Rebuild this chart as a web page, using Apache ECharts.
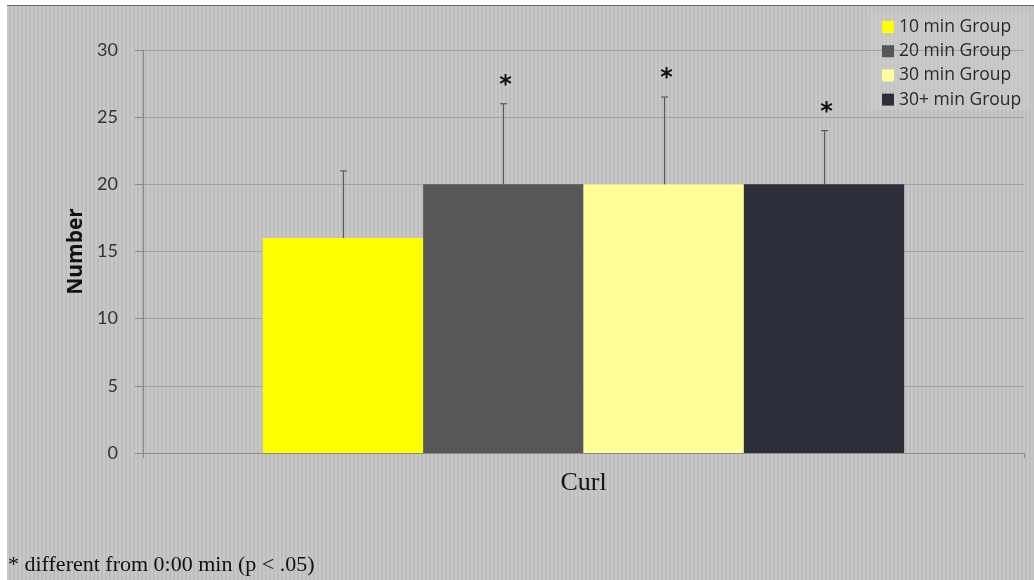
<!DOCTYPE html>
<html>
<head>
<meta charset="utf-8">
<script src="https://cdn.jsdelivr.net/npm/echarts@6/dist/echarts.min.js"></script>
<style>
  html, body { margin: 0; padding: 0; background: #ffffff; }
  #wrap { position: relative; width: 1034px; height: 580px; overflow: hidden; }
  #panel {
    position: absolute; left: 7px; top: 5px; right: 0; bottom: 0;
    border-top: 1px solid #6a6a6a;
    background: repeating-linear-gradient(90deg, #c8c8c8 0px, #c8c8c8 2px, #bdbdbd 2px, #bdbdbd 4px);
  }
  #legendBox {
    position: absolute; left: 870px; top: 12px; width: 160px; height: 98px;
    background: rgba(204, 204, 204, 0.55);
  }
  #chart { position: absolute; left: 0; top: 0; width: 1034px; height: 580px; }
</style>
</head>
<body>
<div id="wrap">
  <div id="panel"></div>
  <div id="legendBox"></div>
  <div id="chart"></div>
</div>
<script>
// Exercise: number of curls completed, by rest-interval group
const categories = ['Curl'];
const groups = ['10 min Group', '20 min Group', '30 min Group', '30+ min Group'];
const means = [16, 20, 20, 20];
const sds = [5, 6, 6.5, 4];
const significant = [false, true, true, true];
const colors = ['#ffff00', '#575757', '#ffff99', '#2c2f3a'];
const yTicks = [0, 5, 10, 15, 20, 25, 30];

const GAP = 0.272; // barCategoryGap as a fraction

const chart = echarts.init(document.getElementById('chart'), null, { renderer: 'canvas' });

const barSeries = groups.map((g, i) => ({
  name: g,
  type: 'bar',
  data: [means[i]],
  itemStyle: { color: colors[i] },
  barGap: '0%',
  barCategoryGap: (GAP * 100) + '%',
  z: 2
}));

// Error bars (mean + SD) and significance markers, positioned on each bar
const errorSeries = {
  type: 'custom',
  name: 'errors',
  data: groups.map((g, i) => [0, means[i], means[i] + sds[i], i]),
  z: 5,
  renderItem: function (params, api) {
    const i = api.value(3);
    const base = api.coord([api.value(0), api.value(1)]);
    const top = api.coord([api.value(0), api.value(2)]);
    const band = api.size([1, 0])[0];
    const barW = band * (1 - GAP) / groups.length;
    const x = Math.round(base[0] + (i - (groups.length - 1) / 2) * barW) + 0.5;
    const children = [
      { type: 'line', shape: { x1: x, y1: base[1], x2: x, y2: top[1] },
        style: { stroke: '#5a5a5a', lineWidth: 1.2 } },
      { type: 'line', shape: { x1: x - 3.5, y1: top[1], x2: x + 3.5, y2: top[1] },
        style: { stroke: '#5a5a5a', lineWidth: 1.2 } }
    ];
    if (significant[i]) {
      children.push({
        type: 'text',
        style: { text: '*', x: x + 2, y: top[1] - 18, align: 'center', verticalAlign: 'middle',
                 font: 'bold 24px "DejaVu Sans", sans-serif', fill: '#111' }
      });
    }
    return { type: 'group', children: children };
  }
};

chart.setOption({
  backgroundColor: 'transparent',
  animation: false,
  grid: { left: 143, right: 10, top: 50, bottom: 127, containLabel: false },
  legend: {
    data: groups,
    orient: 'vertical',
    left: 877,
    top: 13,
    itemWidth: 12,
    itemHeight: 12,
    itemGap: 6.2,
    icon: 'rect',
    textStyle: { fontFamily: 'Open Sans', fontSize: 17.5, color: '#2a2a2a' }
  },
  xAxis: {
    type: 'category',
    data: categories,
    axisLine: { lineStyle: { color: '#8a8a8a', width: 1.2 } },
    axisTick: { show: true, length: 5, lineStyle: { color: '#8a8a8a' } },
    axisLabel: { margin: 17, fontFamily: 'Liberation Serif', fontSize: 26, color: '#111' }
  },
  yAxis: {
    type: 'value',
    min: 0,
    max: 30,
    interval: 5,
    name: 'Number',
    nameLocation: 'middle',
    nameGap: 55,
    nameTextStyle: { fontFamily: 'Open Sans', fontSize: 21, fontWeight: 'bold', color: '#111' },
    axisLine: { show: true, lineStyle: { color: '#8a8a8a', width: 1.2 } },
    axisTick: { show: true, inside: false, length: 8, lineStyle: { color: '#8a8a8a' } },
    axisLabel: { margin: 25, fontFamily: 'Lato', fontSize: 18, color: '#333',
                 formatter: v => yTicks.includes(v) ? String(v) : '' },
    splitLine: { show: true, lineStyle: { color: '#a2a2a2', width: 1 } }
  },
  series: [...barSeries, errorSeries],
  graphic: [{
    type: 'text',
    left: 8,
    top: 554,
    style: { text: '* different from 0:00 min (p < .05)', font: '22px "Liberation Serif", serif', fill: '#111' }
  }]
});
</script>
</body>
</html>
